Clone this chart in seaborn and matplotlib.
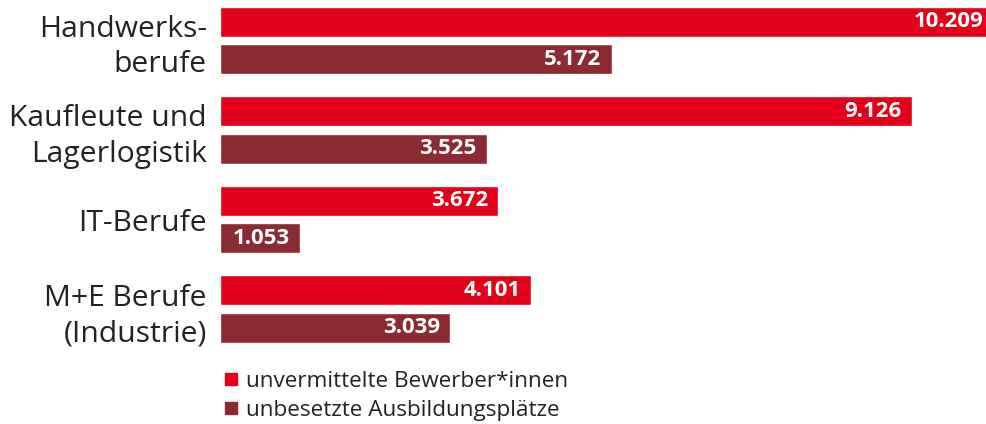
import pandas as pd
import matplotlib.pyplot as plt
import seaborn as sns
from matplotlib.lines import Line2D

# Data
categories = ['Handwerks-\nberufe', 'Kaufleute und\nLagerlogistik', 'IT-Berufe', 'M+E Berufe\n(Industrie)']
series = ['unvermittelte Bewerber*innen', 'unbesetzte Ausbildungsplätze']
bewerber = [10209, 9126, 3672, 4101]
plaetze = [5172, 3525, 1053, 3039]
colors = ['#e2001a', '#8c2a33']

df = pd.DataFrame({
    'beruf': categories * 2,
    'wert': bewerber + plaetze,
    'reihe': [series[0]] * len(categories) + [series[1]] * len(categories),
})

sns.set_theme(style='white')
plt.rcParams['font.family'] = ['Open Sans', 'DejaVu Sans']
text_col = '#222222'

fig = plt.figure(figsize=(9.87, 4.24), dpi=100)
ax = fig.add_axes([220 / 987, 1 - 354 / 424, 767 / 987, 354 / 424])

sns.barplot(data=df, y='beruf', x='wert', hue='reihe', orient='h',
            palette=colors, width=0.838, gap=0.2, legend=False, ax=ax,
            saturation=1)

ax.set_xlim(0, 10119)
ax.set_ylim(3.5, -0.45)
ax.set_xlabel('')
ax.set_ylabel('')
ax.set_xticks([])
sns.despine(ax=ax, left=True, bottom=True)
ax.tick_params(axis='y', length=0, pad=9.5, labelsize=21.6, labelcolor=text_col)
for lbl in ax.get_yticklabels():
    lbl.set_linespacing(1.3)

# value labels inside the bar ends
for cont in ax.containers:
    for p in cont.patches:
        w = p.get_width()
        ax.annotate(f'{int(round(w)):,}'.replace(',', '.'),
                    xy=(w, p.get_y() + p.get_height() / 2),
                    xytext=(-7.5, 0), textcoords='offset points',
                    ha='right', va='center', color='white',
                    fontsize=16, fontweight='bold', annotation_clip=False)

handles = [Line2D([], [], marker='s', linestyle='', markersize=8.5,
                  markerfacecolor=c, markeredgecolor=c) for c in colors]
fig.legend(handles, series, loc='upper left', bbox_to_anchor=(212 / 987, 1 - 360 / 424),
           frameon=False, fontsize=16.2, handlelength=0.7, handletextpad=0.3,
           labelspacing=0.33, borderpad=0, labelcolor=text_col)

fig.savefig('out.png', dpi=100)
